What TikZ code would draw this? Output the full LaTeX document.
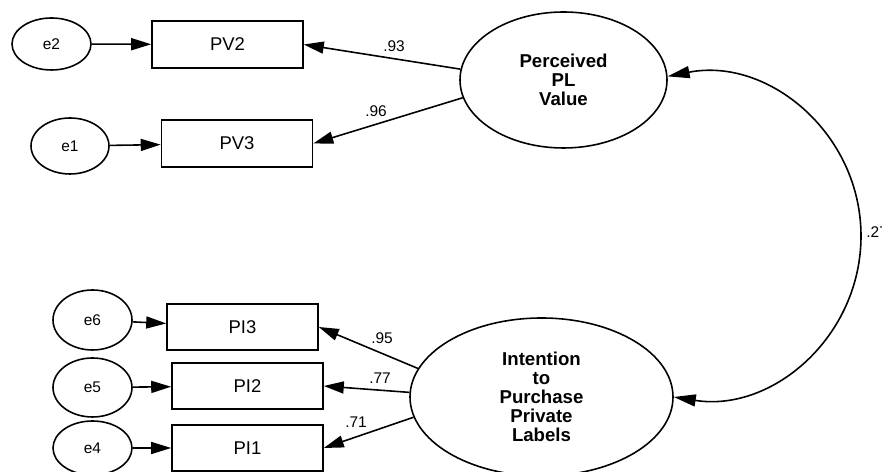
\documentclass[tikz,border=0pt]{standalone}
\usepackage{fontspec}
\setmainfont{Liberation Sans}
\usetikzlibrary{arrows.meta,shapes.geometric}
\newlength\pxu
\setlength\pxu{0.02cm}
\begin{document}
\begin{tikzpicture}[x=0.02cm,y=0.02cm,
  every node/.style={inner sep=0pt},
  lw/.style={line width=0.9pt},
  errvar/.style={ellipse,draw,lw,font=\fontsize{8.8}{9}\selectfont},
  obsvar/.style={rectangle,draw,lw,minimum width=151\pxu,minimum height=47\pxu,font=\fontsize{10.5}{12}\selectfont},
  latvar/.style={ellipse,draw,lw,align=center,font=\fontsize{10.6}{10.8}\selectfont\bfseries},
  regarrow/.style={lw,-{Triangle[length=0.4cm,width=0.24cm]}},
  covarrow/.style={lw,{Triangle[length=0.44cm,width=0.24cm]}-{Triangle[length=0.44cm,width=0.24cm]}},
  coef/.style={font=\fontsize{8.8}{9}\selectfont}]
\useasboundingbox (0,0) rectangle (882,472);

% latent constructs
\node[latvar,minimum width=207\pxu,minimum height=136\pxu] (pv) at (563.5,392) {Perceived\\PL\\Value};
\node[latvar,minimum width=263\pxu,minimum height=158\pxu] (pi) at (541.5,75) {Intention\\to\\Purchase\\Private\\Labels};

% indicators
\node[obsvar] (PV2) at (227.5,427.5) {PV2};
\node[obsvar] (PV3) at (237,328.5) {PV3};
\node[obsvar,minimum height=46\pxu] (PI3) at (242.5,145) {PI3};
\node[obsvar,minimum height=46\pxu] (PI2) at (247.5,86) {PI2};
\node[obsvar,minimum height=46\pxu] (PI1) at (247.5,24) {PI1};

% error terms
\node[errvar,minimum width=79\pxu,minimum height=52\pxu] (e2) at (51.5,428) {e2};
\node[errvar,minimum width=78\pxu,minimum height=56\pxu] (e1) at (70,326) {e1};
\node[errvar,minimum width=79\pxu,minimum height=60\pxu] (e6) at (92.5,152) {e6};
\node[errvar,minimum width=79\pxu,minimum height=59\pxu] (e5) at (92.5,84.5) {e5};
\node[errvar,minimum width=79\pxu,minimum height=54\pxu] (e4) at (92.5,24) {e4};

% error paths
\draw[regarrow] (e2) -- (PV2);
\draw[regarrow] (e1) -- (PV3);
\draw[regarrow] (e6) -- (PI3);
\draw[regarrow] (e5) -- (PI2);
\draw[regarrow] (e4) -- (PI1);

% loadings
\draw[regarrow] (pv.174.5) -- (PV2.east);
\draw[regarrow] (pv.190) -- (PV3.east);
\draw[regarrow] (pi.167.7) -- (PI3.east);
\draw[regarrow] (pi.178) -- (PI2.east);
\draw[regarrow] (pi.189.4) -- (PI1.east);

\node[coef] (l93) at (394,426) {.93};
\node[coef] (l96) at (376,361) {.96};
\node[coef] (l95) at (382,134) {.95};
\node[coef] (l77) at (380,94) {.77};
\node[coef] (l71) at (356,50) {.71};

% covariance between the constructs: two Bezier pieces tracing a circular arc
\coordinate (cv) at (861,236);
\draw[covarrow] (pv.2) .. controls +(100.6,19.6) and +(0,102.5) .. (cv)
                       .. controls +(0,-100.2) and +(99,-15.7) .. (pi.0);
\node[coef,anchor=west] (l27) at (866,240) {.27};
\end{tikzpicture}
\end{document}
